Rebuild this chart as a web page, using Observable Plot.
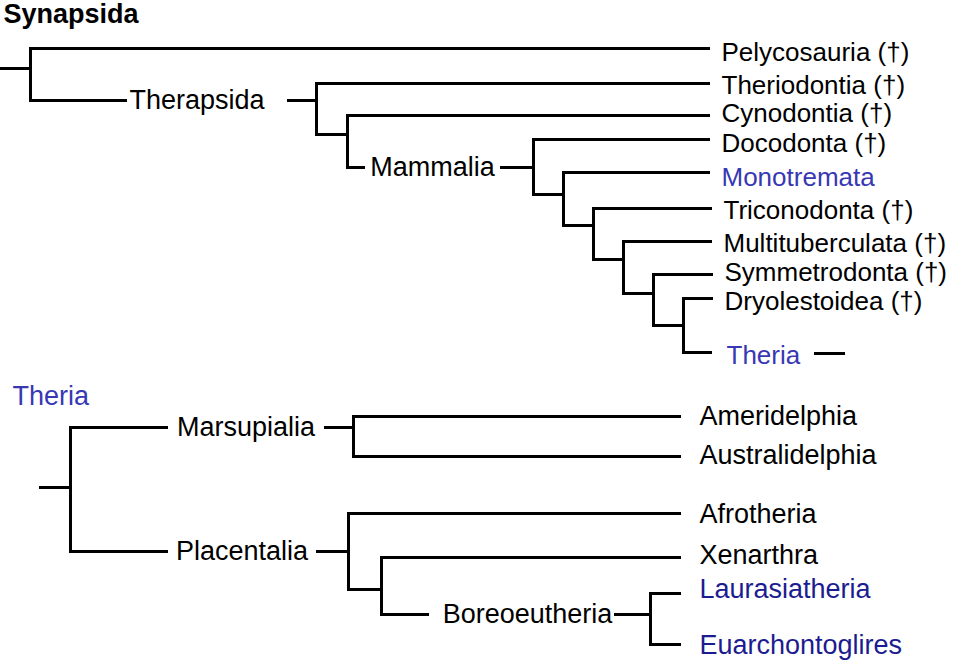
<!DOCTYPE html>
<html>
<head>
<meta charset="utf-8">
<script src="https://cdn.jsdelivr.net/npm/d3@7"></script>
<script src="https://cdn.jsdelivr.net/npm/@observablehq/plot@0.6"></script>
<style>
  html, body { margin: 0; padding: 0; background: #fff; }
  #chart svg { display: block; }
</style>
</head>
<body>
<div id="chart"></div>
<script>
// ---- Upper cladogram: Synapsida ----
const topIds     = ["S", "Pel", "Tps", "Thd", "c1", "Cyn", "Mam", "Doc", "c2", "Mon", "c3", "Tri", "c4", "Mul", "c5", "Sym", "c6", "Dry", "Ther"];
const topParents = [null, "S", "S", "Tps", "Tps", "c1", "c1", "Mam", "Mam", "c2", "c2", "c3", "c3", "c4", "c4", "c5", "c5", "c6", "c6"];
const topLabels  = ["Synapsida", "Pelycosauria (†)", "Therapsida", "Theriodontia (†)", "", "Cynodontia (†)", "Mammalia", "Docodonta (†)", "", "Monotremata", "", "Triconodonta (†)", "", "Multituberculata (†)", "", "Symmetrodonta (†)", "", "Dryolestoidea (†)", "Theria"];
const topDepth   = [30, 708, 316, 708, 347, 708, 533, 708, 563, 708, 593, 710, 623, 710, 653, 711, 683, 711, 710];
const topRow     = [68, 48, 100, 83, 134, 115, 167, 139, 194, 172, 225, 208, 259, 241, 293, 274, 325, 298, 352];
const topGaps    = {Tps: [125, 288], Mam: [363, 501]};
const topBlue    = ["Mon", "Ther"];

// ---- Lower cladogram: Theria ----
const lowIds     = ["T", "Mar", "Ame", "Aus", "Pla", "Afr", "g1", "Xen", "Bor", "Lau", "Eua"];
const lowParents = [null, "T", "Mar", "Mar", "T", "Pla", "Pla", "g1", "g1", "Bor", "Bor"];
const lowLabels  = ["Theria", "Marsupialia", "Ameridelphia", "Australidelphia", "Placentalia", "Afrotheria", "", "Xenarthra", "Boreoeutheria", "Laurasiatheria", "Euarchontoglires"];
const lowDepth   = [70, 353, 679, 679, 348, 679, 381, 679, 650, 679, 679];
const lowRow     = [487, 427, 416, 456, 551, 513, 589, 557, 614, 593, 644];
const lowGaps    = {Mar: [166, 325], Pla: [166, 317], Bor: [427, 615]};
const lowBlue    = ["Lau", "Eua"];

// root stubs and the "Theria —" bridge
const rootStubStart = {S: 0, T: 40};
const bridgeX = [815, 843];

// small vertical nudges of tip labels relative to their branch (as drawn in the original)
const labelNudge = {Pel: 4, Thd: 2, Cyn: -2, Doc: 4, Mon: 5, Tri: 2, Mul: 2, Sym: -2, Dry: 3, Ther: 3,
                    Ame: 0, Aus: -1, Afr: 1, Xen: -2, Lau: -4, Eua: 1};

function buildTree(ids, parents, labels, depth, row, gaps) {
  const nodes = ids.map((id, i) => ({id, parent: parents[i], label: labels[i], x: depth[i], y: row[i], gap: gaps[id] || null}));
  const byId = new Map(nodes.map(n => [n.id, n]));
  nodes.forEach(n => { n.children = nodes.filter(c => c.parent === n.id); });
  const segs = [];
  for (const n of nodes) {
    if (n.parent) {
      const p = byId.get(n.parent);
      if (n.gap) {
        segs.push({x1: p.x, y1: n.y, x2: n.gap[0], y2: n.y});
        segs.push({x1: n.gap[1], y1: n.y, x2: n.x, y2: n.y});
      } else {
        segs.push({x1: p.x, y1: n.y, x2: n.x, y2: n.y});
      }
    } else {
      segs.push({x1: rootStubStart[n.id], y1: n.y, x2: n.x, y2: n.y});
    }
    if (n.children.length) {
      const ys = n.children.map(c => c.y);
      segs.push({x1: n.x, y1: d3.min(ys), x2: n.x, y2: d3.max(ys)});
    }
  }
  return {nodes, byId, segs};
}

const upperTree = buildTree(topIds, topParents, topLabels, topDepth, topRow, topGaps);
const lowerTree = buildTree(lowIds, lowParents, lowLabels, lowDepth, lowRow, lowGaps);

const thBridge = upperTree.byId.get("Ther");
const segments = [...upperTree.segs, ...lowerTree.segs, {x1: bridgeX[0], y1: thBridge.y + 1, x2: bridgeX[1], y2: thBridge.y + 1}];

const colorFor = (tree, id) => {
  if (tree === "top" && topBlue.includes(id)) return "#3838b4";
  if (tree === "low" && lowBlue.includes(id)) return "#1c1c90";
  return "#000";
};

// tip labels
const upperTips = upperTree.nodes.filter(n => n.parent && !n.children.length)
  .map(n => ({x: n.x + (n.id === "Ther" ? 16 : 13), y: n.y + (labelNudge[n.id] || 0), text: n.label, fill: colorFor("top", n.id)}));
const lowerTips = lowerTree.nodes.filter(n => n.parent && !n.children.length)
  .map(n => ({x: n.x + 20, y: n.y + (labelNudge[n.id] || 0), text: n.label, fill: colorFor("low", n.id)}));
// clade labels sitting in the branch gaps
const cladeLabels = [...upperTree.nodes, ...lowerTree.nodes].filter(n => n.gap && n.label)
  .map(n => ({x: (n.gap[0] + n.gap[1]) / 2 + (n.id === "Tps" ? -10 : n.id === "Bor" ? 6 : 0), y: n.y, text: n.label}));
// root labels
const rootS = upperTree.byId.get("S"), rootT = lowerTree.byId.get("T");
const titleLabel = [{x: 3, y: 14, text: rootS.label}];
const lowerRootLabel = [{x: 12, y: 396, text: rootT.label}];

const chart = Plot.plot({
  width: 960,
  height: 661,
  margin: 0,
  x: {domain: [0, 960], range: [0, 960], axis: null},
  y: {domain: [0, 661], range: [0, 661], axis: null},
  style: {fontFamily: "'Liberation Sans', Arial, sans-serif", background: "#fff"},
  marks: [
    Plot.link(segments, {x1: "x1", y1: "y1", x2: "x2", y2: "y2", stroke: "#000", strokeWidth: 3, strokeLinecap: "square"}),
    Plot.text(upperTips, {x: "x", y: "y", text: "text", fill: d => d.fill, textAnchor: "start", fontSize: 26}),
    Plot.text(lowerTips, {x: "x", y: "y", text: "text", fill: d => d.fill, textAnchor: "start", fontSize: 27}),
    Plot.text(cladeLabels, {x: "x", y: "y", text: "text", fill: "#000", textAnchor: "middle", fontSize: 27}),
    Plot.text(titleLabel, {x: "x", y: "y", text: "text", fill: "#000", textAnchor: "start", fontSize: 27, fontWeight: "bold"}),
    Plot.text(lowerRootLabel, {x: "x", y: "y", text: "text", fill: "#3838b4", textAnchor: "start", fontSize: 27})
  ]
});
document.getElementById("chart").append(chart);
</script>
</body>
</html>
